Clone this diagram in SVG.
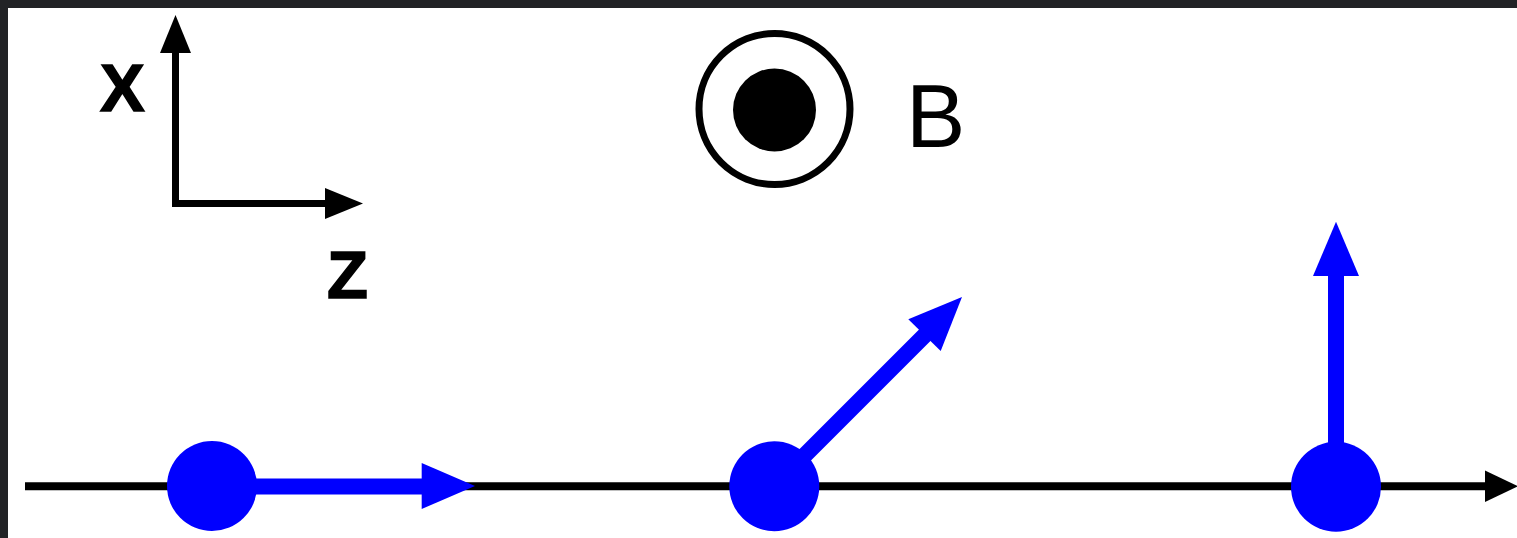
<svg xmlns="http://www.w3.org/2000/svg" width="1517" height="538" viewBox="0 0 1517 538">
<style>
.axis{stroke:#000;stroke-width:7;fill:none}
.vec{stroke:#0000ff;stroke-width:16;fill:none}
.bhead{fill:#000}
.vhead{fill:#0000ff}
.dot{fill:#0000ff}
.lbl{font-family:"Liberation Sans",Arial,sans-serif;fill:#000}
.bold{font-family:"Liberation Sans",Arial,sans-serif;font-weight:700;fill:#000;font-size:67px;stroke:#000;stroke-width:1.5;stroke-linejoin:miter}
</style>
<rect x="0" y="0" width="1517" height="538" fill="#ffffff"/>
<rect x="0" y="0" width="1517" height="8" fill="#222326"/>
<rect x="0" y="0" width="8" height="538" fill="#222326"/>
<g id="axes">
<path class="axis" d="M175.5 52 V203.5 H326"/>
<polygon class="bhead" points="175.5,15 191,53 160,53"/>
<polygon class="bhead" points="363,203.5 325,188 325,219"/>
<text class="bold" x="100" y="110.5">X</text>
<text class="bold" x="327" y="297.5">Z</text>
</g>
<g id="field">
<circle cx="774.5" cy="109" r="75.5" fill="none" stroke="#000" stroke-width="7"/>
<circle cx="774.5" cy="110" r="41.5" fill="#000"/>
<text class="lbl" x="906" y="147" font-size="89">B</text>
</g>
<g id="connectors">
<line class="axis" x1="25" y1="486.3" x2="1487" y2="486.3" style="stroke-width:8"/>
<polygon class="bhead" points="1518,486.3 1485,470.5 1485,502"/>
<line class="vec" x1="212" y1="486.5" x2="424" y2="486.5"/>
<polygon class="vhead" points="475,486 421.7,463 421.7,509"/>
<line class="vec" x1="774" y1="486" x2="926" y2="334"/>
<polygon class="vhead" points="962,297 908.3,319.3 940.7,351"/>
<line class="vec" x1="1336" y1="486" x2="1336" y2="274"/>
<polygon class="vhead" points="1336,221.7 1313,276 1359,276"/>
</g>
<g id="particle1"><circle class="dot" cx="212" cy="486" r="45"/></g>
<g id="particle2"><circle class="dot" cx="774.3" cy="486.3" r="45"/></g>
<g id="particle3"><circle class="dot" cx="1336" cy="486.7" r="45"/></g>
</svg>
